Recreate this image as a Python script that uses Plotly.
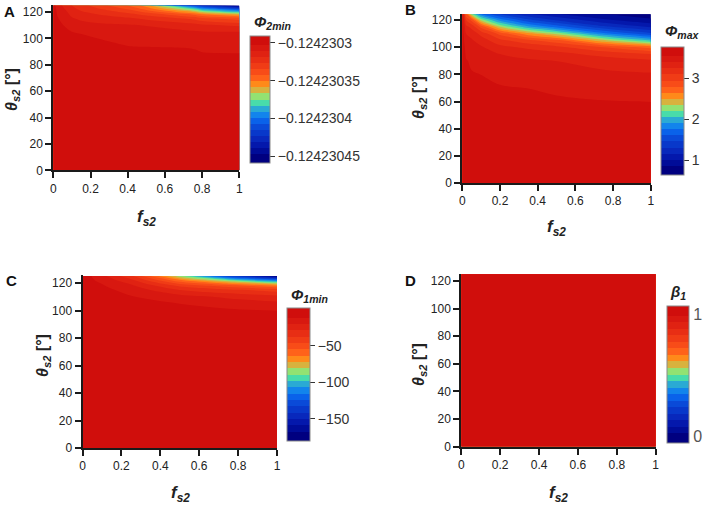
import plotly.graph_objects as go

W, H = 708, 506

# ---------------- data ----------------
# Panel A : Phi_2min(f_s2, theta_s2)
fA = [0, 0.02, 0.1, 0.15, 0.25, 0.4, 0.5, 0.75, 0.8, 1.0]
thA = [0, 85, 90, 95, 100, 105, 110, 115, 118, 120, 122, 125]
phi2min = [
    [-0.1242302958, -0.1242302966, -0.1242302966, -0.1242302966, -0.1242302966, -0.1242302966, -0.1242302966, -0.1242302966, -0.1242302966, -0.1242302966],
    [-0.1242302958, -0.1242302966, -0.1242302974, -0.1242302982, -0.1242302990, -0.1242302990, -0.1242302994, -0.1242303006, -0.1242303014, -0.1242303018],
    [-0.1242302958, -0.1242302966, -0.1242302974, -0.1242302982, -0.1242302998, -0.1242303006, -0.1242303010, -0.1242303022, -0.1242303032, -0.1242303034],
    [-0.1242302958, -0.1242302966, -0.1242302974, -0.1242302994, -0.1242303006, -0.1242303034, -0.1242303038, -0.1242303042, -0.1242303046, -0.1242303054],
    [-0.1242302958, -0.1242302974, -0.1242302998, -0.1242303014, -0.1242303032, -0.1242303054, -0.1242303062, -0.1242303070, -0.1242303078, -0.1242303082],
    [-0.1242302962, -0.1242302990, -0.1242303030, -0.1242303038, -0.1242303062, -0.1242303070, -0.1242303078, -0.1242303102, -0.1242303106, -0.1242303110],
    [-0.1242302966, -0.1242303006, -0.1242303062, -0.1242303078, -0.1242303094, -0.1242303102, -0.1242303114, -0.1242303158, -0.1242303174, -0.1242303206],
    [-0.1242302970, -0.1242303022, -0.1242303102, -0.1242303126, -0.1242303150, -0.1242303174, -0.1242303206, -0.1242303286, -0.1242303326, -0.1242303390],
    [-0.1242302974, -0.1242303030, -0.1242303126, -0.1242303158, -0.1242303190, -0.1242303238, -0.1242303286, -0.1242303430, -0.1242303486, -0.1242303590],
    [-0.1242302974, -0.1242303038, -0.1242303142, -0.1242303182, -0.1242303222, -0.1242303294, -0.1242303366, -0.1242303590, -0.1242303670, -0.1242303830],
    [-0.1242302978, -0.1242303046, -0.1242303166, -0.1242303206, -0.1242303262, -0.1242303350, -0.1242303446, -0.1242303750, -0.1242303870, -0.1242304070],
    [-0.1242302982, -0.1242303070, -0.1242303190, -0.1242303238, -0.1242303318, -0.1242303430, -0.1242303550, -0.1242304070, -0.1242304190, -0.1242304526],
]
levelsA = dict(start=-0.124230455, end=-0.124230295, size=0.000000008)
ticksA = [-0.1242303, -0.12423035, -0.1242304, -0.12423045]
ticktextA = ["\u22120.1242303", "\u22120.12423035", "\u22120.1242304", "\u22120.12423045"]

# Panel B : Phi_max
fB = [0, 0.02, 0.05, 0.1, 0.2, 0.35, 0.5, 0.75, 1.0]
thB = [0, 40, 60, 70, 80, 90, 95, 100, 105, 110, 115, 120, 125]
phimax = [
    [3.66, 3.66, 3.66, 3.66, 3.66, 3.66, 3.66, 3.66, 3.66],
    [3.66, 3.64, 3.63, 3.62, 3.61, 3.61, 3.60, 3.60, 3.60],
    [3.66, 3.62, 3.60, 3.59, 3.58, 3.57, 3.56, 3.555, 3.55],
    [3.66, 3.60, 3.58, 3.57, 3.56, 3.55, 3.54, 3.51, 3.50],
    [3.66, 3.58, 3.56, 3.55, 3.52, 3.50, 3.48, 3.44, 3.42],
    [3.66, 3.56, 3.53, 3.50, 3.45, 3.42, 3.40, 3.33, 3.28],
    [3.65, 3.53, 3.50, 3.47, 3.40, 3.35, 3.30, 3.20, 3.10],
    [3.65, 3.50, 3.47, 3.42, 3.30, 3.22, 3.15, 2.95, 2.75],
    [3.64, 3.45, 3.42, 3.33, 3.15, 3.00, 2.85, 2.40, 2.05],
    [3.63, 3.40, 3.35, 3.20, 2.90, 2.55, 2.30, 1.80, 1.50],
    [3.62, 3.30, 3.20, 2.90, 2.35, 1.95, 1.70, 1.35, 1.15],
    [3.61, 3.10, 2.90, 2.30, 1.85, 1.50, 1.30, 1.05, 0.90],
    [3.60, 2.80, 2.20, 1.70, 1.40, 1.15, 1.00, 0.85, 0.75],
]
levelsB = dict(start=0.72, end=3.70, size=0.149)
ticksB = [1, 2, 3]

# Panel C : Phi_1min
fC = [0, 0.05, 0.1, 0.25, 0.5, 0.75, 1.0]
thC = [0, 90, 100, 105, 110, 115, 118, 120, 122, 125]
phi1min = [
    [-4.7, -4.7, -4.7, -4.7, -4.7, -4.7, -4.7],
    [-4.7, -4.7, -5.2, -5.6, -5.6, -6.5, -7.3],
    [-4.7, -4.7, -5.6, -6.5, -9.1, -10.4, -11.7],
    [-4.7, -5.2, -6.5, -8.2, -11.7, -15.1, -17.7],
    [-5.2, -5.6, -7.3, -11.2, -16.8, -22.0, -26.4],
    [-5.6, -7.3, -9.1, -15.1, -29.0, -35.9, -41.9],
    [-5.6, -9.1, -10.8, -18.6, -39.3, -50.6, -63.6],
    [-6.0, -9.9, -12.1, -22.0, -49.7, -67.9, -85.2],
    [-6.5, -10.8, -14.3, -26.4, -61.8, -89.5, -115.5],
    [-6.5, -12.1, -17.7, -35.9, -85.2, -132.8, -171.7],
]
levelsC = dict(start=-176.0, end=-3.0, size=8.65)
ticksC = [-150, -100, -50]

# Panel D : beta_1
fD = [0, 1.0]
thD = [0, 125]
beta1 = [
    [1.0, 1.0],
    [1.0, 1.0],
]
levelsD = dict(start=-0.023, end=1.041, size=0.0532)
ticksD = [0, 1]

f_ticks = [0, 0.2, 0.4, 0.6, 0.8, 1]
f_ticktext = ["0", "0.2", "0.4", "0.6", "0.8", "1"]
theta_ticks = [0, 20, 40, 60, 80, 100, 120]

# ---------------- style ----------------
COLORS = ["#000080", "#000C98", "#0418AC", "#0828BC", "#0838CA", "#0A4AD8",
          "#0A62EA", "#1284EC", "#2AAAD4", "#48DCAA", "#92E272", "#D8B23E",
          "#FF8A1A", "#FF621A", "#F84C18", "#F03C16", "#E82E14", "#E02212",
          "#D81810", "#D00E0C"]
n = len(COLORS)
cscale = []
for i, c in enumerate(COLORS):
    cscale.append([i / n, c])
    cscale.append([(i + 1) / n, c])

FONT = "Liberation Sans, Arial, sans-serif"
AX = "#1a1a1a"


def px(x):
    return x / W


def py(y):
    return 1 - y / H


panels = [
    # data, levels, plot box (x0, x1, ytop, ybot), yrange, colorbar (x, thick, ytop, ybot)
    dict(x=fA, y=thA, z=phi2min, lev=levelsA, box=(53.3, 239.3, 5.0, 170.3), yr=[0, 125.3],
         cb=(250, 20, 36, 163.3), tv=ticksA, tt=ticktextA),
    dict(x=fB, y=thB, z=phimax, lev=levelsB, box=(462.3, 650.8, 14.3, 183.0), yr=[0, 124.2],
         cb=(661.3, 22.7, 46.7, 175), tv=ticksB, tt=[str(t) for t in ticksB]),
    dict(x=fC, y=thC, z=phi1min, lev=levelsC, box=(82.5, 277.0, 275.3, 448.0), yr=[0, 125.6],
         cb=(287.3, 23.3, 308, 441.3), tv=ticksC, tt=["\u2212150", "\u2212100", "\u221250"]),
    dict(x=fD, y=thD, z=beta1, lev=levelsD, box=(461.3, 655.7, 274.3, 446.5), yr=[0, 124.8],
         cb=(666.7, 22.3, 305.7, 443), tv=ticksD, tt=["0", "1"]),
]

fig = go.Figure()
layout = dict(width=W, height=H, margin=dict(l=0, r=0, t=0, b=0, autoexpand=False),
              paper_bgcolor="white", plot_bgcolor="white",
              font=dict(family=FONT, color="#222"), showlegend=False)

for i, p in enumerate(panels):
    k = "" if i == 0 else str(i + 1)
    x0, x1, yt, yb = p["box"]
    cbx, cbt, cbtop, cbbot = p["cb"]
    isD = i == 3
    fig.add_trace(go.Contour(
        x=p["x"], y=p["y"], z=p["z"],
        xaxis="x" + k, yaxis="y" + k,
        autocontour=False,
        contours=dict(start=p["lev"]["start"], end=p["lev"]["end"], size=p["lev"]["size"],
                      coloring="fill", showlines=False),
        colorscale=cscale,
        line=dict(width=0, smoothing=1.0),
        hoverinfo="skip",
        colorbar=dict(
            x=px(cbx), xanchor="left", xpad=0, ypad=0,
            y=py((cbtop + cbbot) / 2), yanchor="middle",
            len=cbbot - cbtop, lenmode="pixels",
            thickness=cbt, thicknessmode="pixels",
            outlinecolor="#8a8a8a", outlinewidth=1,
            tickvals=p["tv"], ticktext=p["tt"],
            ticks="" if isD else "outside", ticklen=5, tickwidth=1.2, tickcolor="#333",
            tickfont=dict(size=16 if isD else 14, color="#555" if isD else "#333", family=FONT),
        ),
    ))
    layout["xaxis" + k] = dict(
        domain=[px(x0), px(x1)], range=[0, 1], anchor="y" + k,
        tickvals=f_ticks, ticktext=f_ticktext,
        showline=True, linecolor=AX, linewidth=2, ticks="outside", ticklen=6,
        tickwidth=1.5, tickcolor=AX, showgrid=False, zeroline=False,
        tickfont=dict(size=12, color="#222"))
    layout["yaxis" + k] = dict(
        domain=[py(yb), py(yt)], range=p["yr"], anchor="x" + k,
        tickvals=theta_ticks,
        showline=True, linecolor=AX, linewidth=2, ticks="outside", ticklen=6,
        tickwidth=1.5, tickcolor=AX, showgrid=False, zeroline=False,
        tickfont=dict(size=12, color="#222"))

fig.update_layout(**layout)

f_title = "<b><i>f</i></b><sub><b><i>s2</i></b></sub>"
th_title = "<b><i>\u03b8</i></b><sub><b><i>s2</i></b></sub><b> [\u00b0]</b>"
cb_titles = ["<b><i>\u03a6</i></b><sub><b><i>2min</i></b></sub>",
             "<b><i>\u03a6</i></b><sub><b><i>max</i></b></sub>",
             "<b><i>\u03a6</i></b><sub><b><i>1min</i></b></sub>",
             "<b><i>\u03b2</i></b><sub><b><i>1</i></b></sub>"]

letters = [("A", 9, 12), ("B", 410, 10), ("C", 11.5, 280), ("D", 410, 280)]
xt_pos = [(146.3, 218), (556.5, 228), (180, 494), (558.5, 494)]
yt_pos = [(13, 90), (419, 98), (43, 356), (419, 365)]
cbt_pos = [(252, 23), (663, 32), (289, 295), (668, 292)]

ann = []
for (t, x, y) in letters:
    ann.append(dict(text="<b>" + t + "</b>", x=px(x), y=py(y), xref="paper", yref="paper",
                    showarrow=False, xanchor="center", yanchor="middle",
                    font=dict(size=15, color="#111", family=FONT)))
for (x, y) in xt_pos:
    ann.append(dict(text=f_title, x=px(x), y=py(y), xref="paper", yref="paper",
                    showarrow=False, xanchor="center", yanchor="middle",
                    font=dict(size=17, color="#222", family=FONT)))
for (x, y) in yt_pos:
    ann.append(dict(text=th_title, x=px(x), y=py(y), xref="paper", yref="paper",
                    showarrow=False, xanchor="center", yanchor="middle", textangle=-90,
                    font=dict(size=16, color="#222", family=FONT)))
for t, (x, y) in zip(cb_titles, cbt_pos):
    ann.append(dict(text=t, x=px(x), y=py(y), xref="paper", yref="paper",
                    showarrow=False, xanchor="left", yanchor="middle",
                    font=dict(size=15, color="#222", family=FONT)))
fig.update_layout(annotations=ann)

fig.write_html("out.html", config={"displayModeBar": False},
               post_script="document.body.style.margin='0';document.body.style.overflow='hidden';")
